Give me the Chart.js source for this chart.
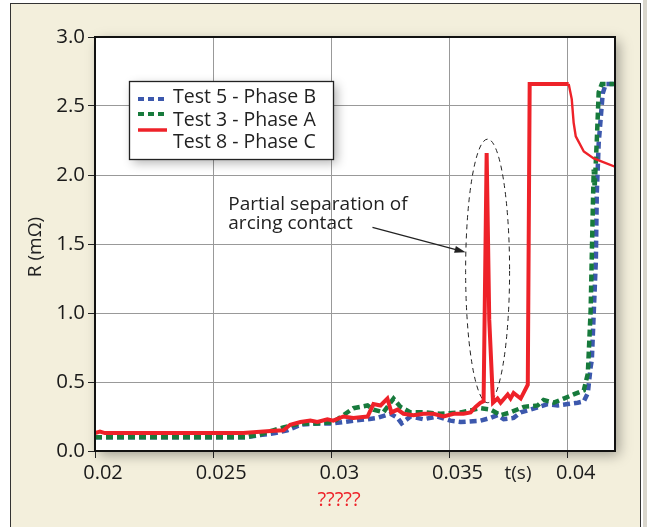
<!DOCTYPE html>
<html>
<head>
<meta charset="utf-8">
<script src="https://cdn.jsdelivr.net/npm/chart.js@4.4.1/dist/chart.umd.min.js"></script>
<style>
  html, body { margin: 0; padding: 0; background: #fff; }
  body { width: 647px; height: 527px; position: relative; overflow: hidden; }
  #frame {
    position: absolute; left: 10px; top: 3px; width: 629px; height: 540px;
    background: #f3efdc; border: 1.5px solid #333; border-bottom: none;
  }
  #edge { position: absolute; left: 643px; top: 0; width: 4px; height: 527px; background: #d9d6cc; }
  #chart { position: absolute; left: 0; top: 0; }
</style>
</head>
<body>
<div id="frame"></div>
<div id="edge"></div>
<canvas id="chart" width="647" height="527"></canvas>
<script>
// tick values / labels
const xTicks = [0.02, 0.025, 0.03, 0.035, 0.04];
const xTickLabels = ["0.02", "0.025", "0.03", "0.035", "0.04"];
const yTicks = [0, 0.5, 1, 1.5, 2, 2.5, 3];
const yTickLabels = ["0.0", "0.5", "1.0", "1.5", "2.0", "2.5", "3.0"];

// Test 5 - Phase B
const phaseB_t = [0.02, 0.02636, 0.02699, 0.02763, 0.02814, 0.02869, 0.02941, 0.03008, 0.03051, 0.03093,
  0.03153, 0.03195, 0.0325, 0.0328, 0.03297, 0.03335, 0.0339, 0.03449, 0.03504, 0.03547,
  0.03631, 0.03674, 0.03703, 0.03729, 0.03771, 0.03801, 0.03843, 0.03915, 0.03958, 0.04,
  0.04042, 0.04068, 0.04085, 0.04097, 0.04102, 0.04119, 0.04123, 0.04131, 0.04148, 0.04161, 0.042];
const phaseB_r = [0.10, 0.10, 0.115, 0.13, 0.15, 0.19, 0.20, 0.20, 0.21, 0.22,
  0.23, 0.24, 0.27, 0.24, 0.20, 0.25, 0.23, 0.25, 0.22, 0.21,
  0.22, 0.24, 0.26, 0.23, 0.24, 0.28, 0.30, 0.34, 0.33, 0.34,
  0.35, 0.36, 0.42, 0.61, 0.66, 1.38, 1.87, 2.23, 2.59, 2.66, 2.66];

// Test 3 - Phase A
const phaseA_t = [0.02, 0.02636, 0.02699, 0.02754, 0.02797, 0.02869, 0.02941, 0.03008, 0.03051, 0.03093,
  0.03153, 0.03178, 0.0322, 0.03263, 0.03292, 0.03335, 0.0339, 0.03462, 0.03547, 0.03631,
  0.03674, 0.03716, 0.03758, 0.03814, 0.03873, 0.03898, 0.03941, 0.03983, 0.04025, 0.04068,
  0.04085, 0.04097, 0.04106, 0.0411, 0.04114, 0.04123, 0.04131, 0.04144, 0.042];
const phaseA_r = [0.10, 0.10, 0.12, 0.15, 0.17, 0.20, 0.20, 0.21, 0.26, 0.31,
  0.33, 0.30, 0.28, 0.38, 0.32, 0.28, 0.28, 0.27, 0.28, 0.31,
  0.30, 0.26, 0.28, 0.32, 0.33, 0.37, 0.35, 0.38, 0.41, 0.44,
  0.56, 1.02, 1.75, 2.04, 1.91, 2.25, 2.60, 2.66, 2.66];

// Test 8 - Phase C
const phaseC_t = [0.02, 0.02021, 0.02042, 0.02627, 0.02742, 0.02797, 0.02826, 0.02869, 0.02911, 0.02941,
  0.02983, 0.03008, 0.03051, 0.03093, 0.03153, 0.03178, 0.03208, 0.03237, 0.03254, 0.0328,
  0.03305, 0.03347, 0.0339, 0.03432, 0.03475, 0.03517, 0.03559, 0.03589, 0.0361, 0.03631,
  0.03644, 0.03657, 0.03668, 0.03684, 0.03703, 0.03716, 0.03746, 0.03758, 0.03771, 0.03801,
  0.03831, 0.03839, 0.04004, 0.04017, 0.04025, 0.04034, 0.04068, 0.0411, 0.042];
const phaseC_r = [0.13, 0.14, 0.13, 0.13, 0.145, 0.15, 0.19, 0.21, 0.22, 0.21,
  0.23, 0.22, 0.25, 0.24, 0.25, 0.34, 0.33, 0.38, 0.28, 0.30,
  0.27, 0.26, 0.27, 0.27, 0.25, 0.27, 0.27, 0.28, 0.32, 0.35,
  0.36, 2.16, 0.95, 0.35, 0.38, 0.35, 0.41, 0.38, 0.42, 0.38,
  0.48, 2.66, 2.66, 2.55, 2.38, 2.28, 2.17, 2.12, 2.06];

const seriesNames = ["Test 5 - Phase B", "Test 3 - Phase A", "Test 8 - Phase C"];
const blue = "#3c58ad", green = "#177a3c", red = "#ee2229";

function toPoints(ts, rs) {
  return ts.map((t, i) => ({ x: t, y: rs[i] }));
}

const FONT = "'Open Sans', 'Liberation Sans', sans-serif";

// white plot area with drop shadow, and the dashed ellipse under the lines
const plotBack = {
  id: "plotBack",
  beforeDraw(chart) {
    const { ctx, chartArea: a } = chart;
    ctx.save();
    ctx.shadowColor = "rgba(0,0,0,0.35)";
    ctx.shadowBlur = 12;
    ctx.shadowOffsetX = 4;
    ctx.shadowOffsetY = 4;
    ctx.fillStyle = "#fff";
    ctx.fillRect(a.left, a.top, a.right - a.left, a.bottom - a.top);
    ctx.restore();
  },
  beforeDatasetsDraw(chart) {
    const { ctx, scales: { x, y } } = chart;
    const l = x.getPixelForValue(0.03568), r = x.getPixelForValue(0.03754);
    const t = y.getPixelForValue(2.26), b = y.getPixelForValue(0.35);
    ctx.save();
    ctx.strokeStyle = "#222";
    ctx.lineWidth = 1;
    ctx.setLineDash([5, 4]);
    ctx.beginPath();
    ctx.ellipse((l + r) / 2, (t + b) / 2, (r - l) / 2, (b - t) / 2, 0, 0, Math.PI * 2);
    ctx.stroke();
    ctx.restore();
  },
  afterDatasetsDraw(chart) {
    const { ctx, chartArea: a, scales: { x, y } } = chart;
    // frame of plot
    ctx.save();
    ctx.strokeStyle = "#111";
    ctx.lineWidth = 2;
    ctx.strokeRect(a.left, a.top, a.right - a.left, a.bottom - a.top);

    // annotation text + arrow
    ctx.fillStyle = "#222";
    ctx.font = "19px " + FONT;
    ctx.textBaseline = "alphabetic";
    ctx.textAlign = "left";
    const tx = x.getPixelForValue(0.02564);
    ctx.fillText("Partial separation of", tx, y.getPixelForValue(1.746));
    ctx.fillText("arcing contact", tx, y.getPixelForValue(1.61));
    const x1 = x.getPixelForValue(0.03174), y1 = y.getPixelForValue(1.62);
    const x2 = x.getPixelForValue(0.03568), y2 = y.getPixelForValue(1.44);
    ctx.strokeStyle = "#222";
    ctx.lineWidth = 1.2;
    ctx.beginPath();
    ctx.moveTo(x1, y1);
    ctx.lineTo(x2 - 6, y2 - 1.6);
    ctx.stroke();
    const ang = Math.atan2(y2 - y1, x2 - x1);
    ctx.beginPath();
    ctx.moveTo(x2, y2);
    ctx.lineTo(x2 - 11 * Math.cos(ang) + 3.5 * Math.sin(ang), y2 - 11 * Math.sin(ang) - 3.5 * Math.cos(ang));
    ctx.lineTo(x2 - 11 * Math.cos(ang) - 3.5 * Math.sin(ang), y2 - 11 * Math.sin(ang) + 3.5 * Math.cos(ang));
    ctx.closePath();
    ctx.fill();

    // axis titles
    ctx.font = "19px " + FONT;
    ctx.textAlign = "center";
    ctx.textBaseline = "middle";
    ctx.fillText("t(s)", 518, 474);
    ctx.fillStyle = red;
    ctx.font = "20px " + FONT;
    ctx.fillText("?????", 339, 500);
    ctx.fillStyle = "#222";
    ctx.translate(36, 247);
    ctx.rotate(-Math.PI / 2);
    ctx.font = "19px " + FONT;
    ctx.fillText("R (m\u03A9)", 0, 0);
    ctx.restore();

    // legend box
    ctx.save();
    ctx.shadowColor = "rgba(0,0,0,0.3)";
    ctx.shadowBlur = 10;
    ctx.shadowOffsetX = 3;
    ctx.shadowOffsetY = 3;
    ctx.fillStyle = "#fff";
    ctx.fillRect(129.5, 81.5, 204, 78);
    ctx.restore();
    ctx.save();
    ctx.strokeStyle = "#222";
    ctx.lineWidth = 1.3;
    ctx.strokeRect(129.5, 81.5, 204, 78);
    const samples = [[blue, 99, [6, 4], 4], [green, 114, [6, 4], 4], [red, 130, [], 3.5]];
    samples.forEach(([c, sy, dash, w]) => {
      ctx.strokeStyle = c;
      ctx.lineWidth = w;
      ctx.setLineDash(dash);
      ctx.beginPath();
      ctx.moveTo(138, sy);
      ctx.lineTo(167, sy);
      ctx.stroke();
    });
    ctx.fillStyle = "#222";
    ctx.font = "19.5px " + FONT;
    ctx.textAlign = "left";
    ctx.textBaseline = "middle";
    [97, 120, 142].forEach((ly, i) => ctx.fillText(seriesNames[i], 173, ly));
    ctx.restore();
  }
};

new Chart(document.getElementById("chart"), {
  type: "scatter",
  data: {
    datasets: [
      {
        label: seriesNames[2], data: toPoints(phaseC_t, phaseC_r), order: 1,
        borderColor: red, borderWidth: 4, showLine: true, pointRadius: 0,
        segment: { borderWidth: ctx => ctx.p0.parsed.x >= 0.04004 ? 2.4 : 4 }
      },
      {
        label: seriesNames[1], data: toPoints(phaseA_t, phaseA_r), order: 2,
        borderColor: green, borderWidth: 4.5, borderDash: [7, 4], showLine: true, pointRadius: 0
      },
      {
        label: seriesNames[0], data: toPoints(phaseB_t, phaseB_r), order: 3,
        borderColor: blue, borderWidth: 4.5, borderDash: [7, 4], showLine: true, pointRadius: 0
      }
    ]
  },
  options: {
    responsive: false,
    animation: false,
    layout: { padding: { top: 37, right: 32, left: 0, bottom: 0 } },
    plugins: { legend: { display: false }, tooltip: { enabled: false } },
    scales: {
      x: {
        type: "linear", min: 0.02, max: 0.042,
        afterBuildTicks: s => { s.ticks = xTicks.map(v => ({ value: v })); },
        afterFit: s => { s.height = 76; },
        grid: { color: "#999", lineWidth: 1, tickLength: 7, tickColor: "#222" },
        border: { display: false },
        ticks: {
          callback: (v, i) => xTickLabels[i],
          color: "#1a1a1a", font: { family: FONT, size: 20 }, padding: 3, labelOffset: 8, maxRotation: 0
        }
      },
      y: {
        type: "linear", min: 0, max: 3,
        afterBuildTicks: s => { s.ticks = yTicks.map(v => ({ value: v })); },
        afterFit: s => { s.width = 95; },
        grid: { color: "#999", lineWidth: 1, tickLength: 7, tickColor: "#222" },
        border: { display: false },
        ticks: {
          callback: (v, i) => yTickLabels[i],
          color: "#1a1a1a", font: { family: FONT, size: 20.5 }, padding: 3
        }
      }
    }
  },
  plugins: [plotBack]
});
</script>
</body>
</html>
